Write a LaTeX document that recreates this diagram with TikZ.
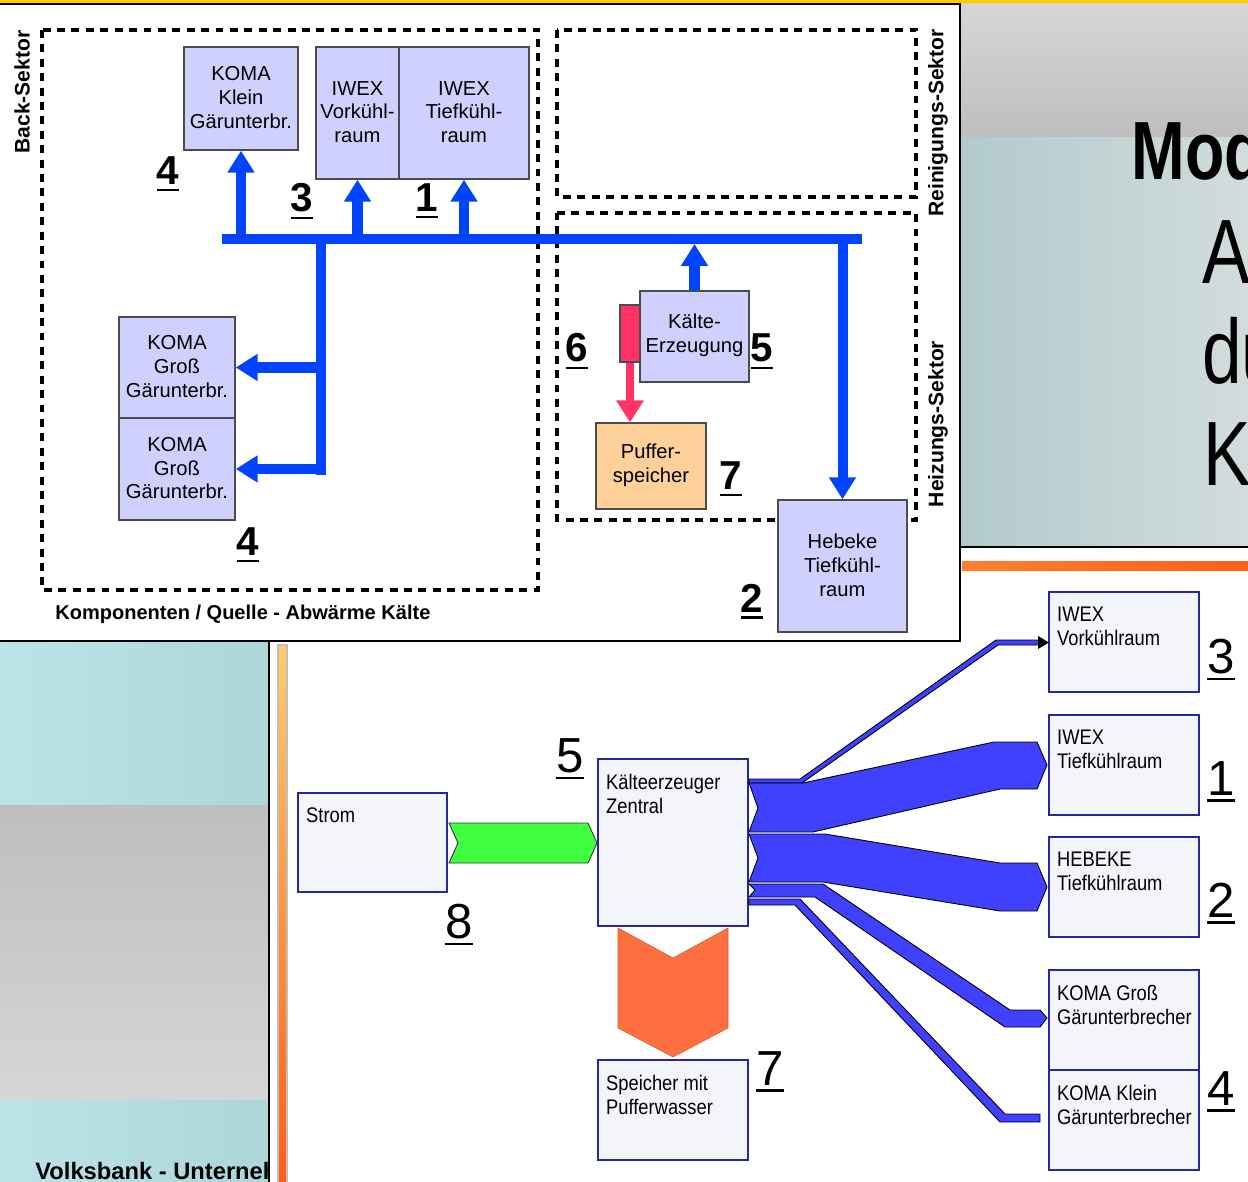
\documentclass[tikz,border=0pt]{standalone}
\usepackage{fontspec}
\setmainfont{Liberation Sans}
\newfontfamily\narrowfont[FakeStretch=0.87]{Liberation Sans}
\newfontfamily\titlefont[FakeStretch=0.78]{Liberation Sans}
\usetikzlibrary{arrows.meta,fit}
\definecolor{slideyellow}{HTML}{FFCC00}
\definecolor{slidegraytop}{HTML}{D6D6D6}
\definecolor{slidegraybot}{HTML}{BEBEBE}
\definecolor{tealleft}{HTML}{B2CACC}
\definecolor{tealright}{HTML}{D2DCDC}
\definecolor{iceleft}{HTML}{BCE4E8}
\definecolor{iceright}{HTML}{ACD6D8}
\definecolor{stripetop}{HTML}{FFCC66}
\definecolor{stripebot}{HTML}{FF5E1A}
\definecolor{busblue}{HTML}{0044FF}
\definecolor{lavender}{HTML}{D0D0FF}
\definecolor{heatred}{HTML}{FF3366}
\definecolor{puffer}{HTML}{FFD09A}
\definecolor{flowblue}{HTML}{4040FF}
\definecolor{flowgreen}{HTML}{40FF40}
\definecolor{floworange}{HTML}{FF7040}
\definecolor{boxfill}{HTML}{F4F4FB}
\definecolor{boxline}{HTML}{2626A0}
\newcommand{\ulnum}[1]{\vtop{\hbox{#1}\kern2.5pt\hrule height 1.2pt}}
\begin{document}
\begin{tikzpicture}[x=0.02cm,y=-0.02cm,
    kbox/.style={draw=black!70,fill=lavender,line width=0.8pt,inner sep=0pt},
    ktext/.style={align=center,inner sep=0pt,yshift=0.5pt,font=\fontsize{11.5}{13.6}\selectfont},
    bbox/.style={draw=boxline,fill=boxfill,line width=1.1pt,inner sep=0pt},
    btext/.style={anchor=north west,align=left,inner xsep=5pt,inner ysep=9pt,
      font=\narrowfont\fontsize{12}{13.6}\selectfont},
    sector/.style={draw=black,line width=2.2pt,dash pattern=on 4.5pt off 3.7pt},
    sectorlabel/.style={rotate=90,inner sep=0pt,font=\bfseries\fontsize{12}{12}\selectfont},
    bus/.style={draw=busblue,line width=5.7pt},
    bustip/.style={-{Triangle[length=12.5pt,width=14.7pt]}},
    tnum/.style={anchor=base,inner sep=0pt,font=\bfseries\fontsize{23}{23}\selectfont},
    bnum/.style={anchor=base,inner sep=0pt,font=\fontsize{28}{28}\selectfont},
    title/.style={anchor=base west,inner sep=0pt,font=\titlefont\fontsize{52}{52}\selectfont},
    flow/.style={draw=black,line width=0.5pt,fill=flowblue}]
  \useasboundingbox (0,0) rectangle (1248,1182);
  \fill[white] (0,0) rectangle (1248,1182);
  \fill[slideyellow] (0,0) rectangle (1248,4);

  \shade[top color=slidegraytop,bottom color=slidegraybot] (960,4) rectangle (1248,138);
  \shade[left color=tealleft,right color=tealright] (960,138) rectangle (1248,546);
  \draw[line width=1.5pt] (960,547) -- (1248,547);
  \shade[left color=stripebot!70!stripetop,right color=stripebot] (962,561) rectangle (1248,570);
  \begin{scope}
    \clip (960,4) rectangle (1248,546);
    \node[title,font=\titlefont\bfseries\fontsize{47}{47}\selectfont] (ttitle) at (1131,180) {Mod};
    \node[title] (tlinea) at (1202,284) {A};
    \node[title] (tlineb) at (1202,384) {du};
    \node[title] (tlinec) at (1203,486) {K};
  \end{scope}

  \shade[left color=iceleft,right color=iceright] (0,641) rectangle (269,805);
  \shade[top color=slidegraybot,bottom color=slidegraytop] (0,805) rectangle (269,1100);
  \shade[left color=iceleft,right color=iceright] (0,1100) rectangle (269,1182);
  \begin{scope}
    \clip (0,641) rectangle (268,1182);
    \node[anchor=base west,inner sep=0pt,font=\bfseries\fontsize{13.5}{13.5}\selectfont] (tbank) at (35,1179) {Volksbank - Unterneh};
  \end{scope}
  \draw[line width=1.5pt] (269,641) -- (269,1182);
  \shade[top color=stripetop,bottom color=stripebot,draw=gray!50,line width=0.6pt] (278,645) rectangle (287,1184);

  \draw[line width=1.5pt,fill=white] (-5,4) rectangle (960,641);
  \draw[sector] (42,30) rectangle (538,590);
  \draw[sector] (557,30) rectangle (916,197);
  \draw[sector] (557,213) -- (916,213) -- (916,520) -- (557,520) -- cycle;
  \node[sectorlabel] (lback) at (22,92) {Back-Sektor};
  \node[sectorlabel] (lrein) at (938,123) {Reinigungs-Sektor};
  \node[sectorlabel] (lheiz) at (938,424) {Heizungs-Sektor};
  \node[anchor=base west,inner sep=0pt,font=\bfseries\fontsize{11.4}{11.4}\selectfont] (lcaption) at (55,619) {Komponenten / Quelle - Abwärme Kälte};

  \node[kbox,fit={(184,47) (298,150)},label={[ktext]center:KOMA\\Klein\\Gärunterbr.}] (kklein) {};
  \node[kbox,fit={(316,47) (399,179)},label={[ktext]center:IWEX\\Vorkühl-\\raum}] (ivor) {};
  \node[kbox,fit={(399,47) (529,179)},label={[ktext]center:IWEX\\Tiefkühl-\\raum}] (itief) {};
  \node[kbox,fit={(119,317) (235,418)},label={[ktext]center:KOMA\\Groß\\Gärunterbr.}] (kgrossa) {};
  \node[kbox,fit={(119,418) (235,520)},label={[ktext]center:KOMA\\Groß\\Gärunterbr.}] (kgrossb) {};
  \node[kbox,fill=heatred,fit={(620,305) (640,362)}] (heat) {};
  \node[kbox,fit={(640,291) (749,382)},label={[ktext]center:Kälte-\\Erzeugung}] (kaelte) {};
  \node[kbox,fill=puffer,fit={(596,423) (706,509)},label={[ktext]center:Puffer-\\speicher}] (puffer) {};
  \node[kbox,fit={(778,500) (907,632)},label={[ktext]center:Hebeke\\Tiefkühl-\\raum}] (hebeke) {};

  \coordinate (busw) at (222,239);
  \coordinate (buse) at (862,239);
  \coordinate (busbot) at (0,244);
  \coordinate (drop) at (321,239);
  \coordinate (dropend) at (321,475);
  \draw[bus] (busw) -- (buse);
  \draw[bus] (drop) -- (dropend);
  \draw[bus,bustip] (kklein.south |- busw) -- (kklein.south);
  \draw[bus,bustip] (ivor.south |- busw) -- (ivor.south);
  \draw[bus,bustip] (itief.south |- busw) -- (itief.south);
  \draw[bus,bustip] (drop |- kgrossa.east) -- (kgrossa.east);
  \draw[bus,bustip] (drop |- kgrossb.east) -- (kgrossb.east);
  \draw[bus,bustip] (kaelte.north) -- (kaelte.north |- busbot);
  \draw[bus,bustip] (hebeke.north |- busw) -- (hebeke.north);
  \draw[heatred,line width=4.5pt,-{Triangle[length=12.5pt,width=15pt]}] (heat.south) -- (heat.south |- puffer.north);

  \node[tnum] (nkklein) at (168,185) {\ulnum{4}};
  \node[tnum] (nivor) at (302,212) {\ulnum{3}};
  \node[tnum] (nitief) at (427,212) {\ulnum{1}};
  \node[tnum] (nkgross) at (248,556) {\ulnum{4}};
  \node[tnum] (nheat) at (577,362) {\ulnum{6}};
  \node[tnum] (nkaelte) at (762,362) {\ulnum{5}};
  \node[tnum] (npuffer) at (731,490) {\ulnum{7}};
  \node[tnum] (nhebeke) at (752,612) {\ulnum{2}};

  \node[bbox,fit={(298,793) (447,892)},label={[btext]north west:Strom}] (strom) {};
  \node[bbox,fit={(598,759) (748,926)},label={[btext]north west:Kälteerzeuger\\Zentral}] (kzentral) {};
  \node[bbox,fit={(598,1060) (748,1160)},label={[btext]north west:Speicher mit\\Pufferwasser}] (speicher) {};
  \node[bbox,fit={(1049,592) (1199,692)},label={[btext]north west:IWEX\\Vorkühlraum}] (bvor) {};
  \node[bbox,fit={(1049,715) (1199,815)},label={[btext]north west:IWEX\\Tiefkühlraum}] (btief) {};
  \node[bbox,fit={(1049,837) (1199,937)},label={[btext]north west:HEBEKE\\Tiefkühlraum}] (bheb) {};
  \node[bbox,fit={(1049,970) (1199,1070)},label={[btext]north west:KOMA Groß\\Gärunterbrecher}] (bgross) {};
  \node[bbox,fit={(1049,1070) (1199,1170)},label={[btext]north west:KOMA Klein\\Gärunterbrecher}] (bklein) {};

  \filldraw[draw=black!80,fill=flowgreen,line width=0.5pt] (449,823) -- (588,823) -- (597,843) -- (588,863) -- (449,863) -- (458,843) -- cycle;
  \filldraw[draw=floworange!80!black,fill=floworange,line width=0.3pt] (618,928) -- (673,958) -- (728,928) -- (728,1028) -- (673,1057) -- (618,1028) -- cycle;
  \filldraw[flow] (749,779) -- (800,779) -- (996,640) -- (1040,640) -- (1040,645) -- (998,645) -- (802,783) -- (749,783) -- cycle;
  \fill[black] (1038,636) -- (1049,642.5) -- (1038,649) -- cycle;
  \filldraw[flow] (749,783) -- (803,783) -- (994,742) -- (1037,742) -- (1047,765) -- (1037,789) -- (1000,789) -- (813,832) -- (749,832) -- (758,808) -- cycle;
  \filldraw[flow] (749,834) -- (825,834) -- (1000,863) -- (1037,863) -- (1047,887) -- (1037,911) -- (1000,911) -- (823,882) -- (749,882) -- (758,858) -- cycle;
  \filldraw[flow] (749,884) -- (823,884) -- (1010,1010) -- (1040,1010) -- (1047,1018) -- (1040,1027) -- (1005,1027) -- (815,897) -- (749,897) -- (755,890) -- cycle;
  \filldraw[flow] (749,899) -- (800,899) -- (1005,1114) -- (1040,1114) -- (1040,1122) -- (1000,1122) -- (795,905) -- (749,905) -- cycle;

  \node[bnum] (nkzentral) at (570,772) {\ulnum{5}};
  \node[bnum] (nstrom) at (459,938) {\ulnum{8}};
  \node[bnum] (nspeicher) at (770,1085) {\ulnum{7}};
  \node[bnum] (nbvor) at (1221,673) {\ulnum{3}};
  \node[bnum] (nbtief) at (1221,795) {\ulnum{1}};
  \node[bnum] (nbheb) at (1221,917) {\ulnum{2}};
  \node[bnum] (nbklein) at (1221,1105) {\ulnum{4}};
\end{tikzpicture}
\end{document}
